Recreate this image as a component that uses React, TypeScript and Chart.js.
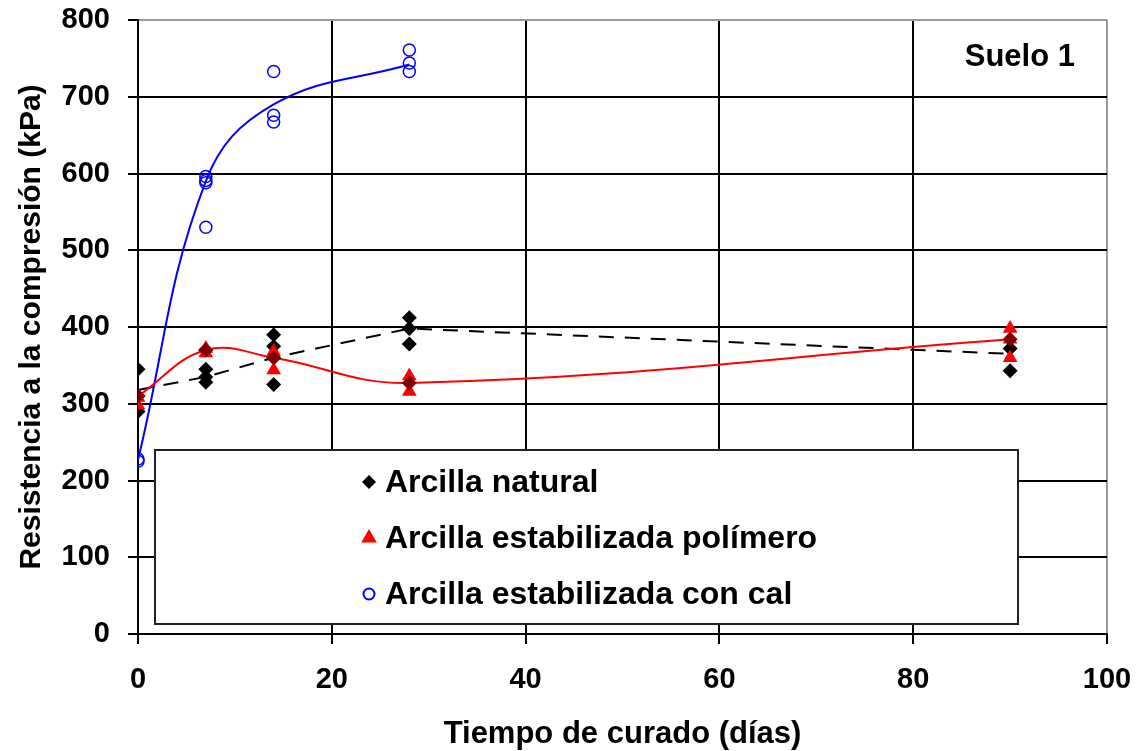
import React, { useEffect, useRef } from 'react';
import { Chart, registerables } from 'chart.js';

Chart.register(...registerables);

// ---- data ----
const naturalDays = [0, 0, 0, 7, 7, 7, 7, 14, 14, 14, 14, 28, 28, 28, 90, 90];
const naturalKPa = [345, 310, 290, 370, 345, 335, 328, 390, 375, 360, 325, 412, 398, 378, 372, 343];

const polymerDays = [0, 0, 7, 7, 14, 14, 28, 28, 90, 90, 90];
const polymerKPa = [308, 298, 372, 366, 368, 344, 336, 316, 398, 384, 360];

const limeDays = [0, 0, 7, 7, 7, 7, 14, 14, 14, 28, 28, 28];
const limeKPa = [228, 225, 596, 591, 588, 530, 733, 676, 667, 761, 744, 733];

const trendDays = [0, 7, 14, 28, 90];
const naturalTrend = [318, 335, 360, 398, 365];
const polymerTrend = [310, 370, 360, 327, 384];
const limeTrendDays = [0, 7, 14, 28];
const limeTrend = [227, 590, 690, 742];

const legendLabels = ['Arcilla natural', 'Arcilla estabilizada polímero', 'Arcilla estabilizada con cal'];
const panelLabel = 'Suelo 1';
const xTitle = 'Tiempo de curado (días)';
const yTitle = 'Resistencia a la compresión (kPa)';

const FONT = "'Liberation Sans', Arial, sans-serif";

const pts = (xs: number[], ys: number[]) => xs.map((x, i) => ({ x, y: ys[i] }));

function drawMarker(ctx: CanvasRenderingContext2D, kind: string, x: number, y: number, color: string) {
  ctx.save();
  if (kind === 'diamond') {
    const r = 7;
    ctx.fillStyle = color;
    ctx.beginPath();
    ctx.moveTo(x - r, y);
    ctx.lineTo(x, y - r);
    ctx.lineTo(x + r, y);
    ctx.lineTo(x, y + r);
    ctx.closePath();
    ctx.fill();
  } else if (kind === 'triangle') {
    const r = 9;
    ctx.fillStyle = color;
    ctx.beginPath();
    ctx.moveTo(x, y - r);
    ctx.lineTo(x + r * 0.866, y + r * 0.5);
    ctx.lineTo(x - r * 0.866, y + r * 0.5);
    ctx.closePath();
    ctx.fill();
  } else {
    ctx.strokeStyle = color;
    ctx.lineWidth = 2;
    ctx.beginPath();
    ctx.arc(x, y, 5.5, 0, Math.PI * 2);
    ctx.stroke();
  }
  ctx.restore();
}

const boxLegendPlugin = {
  id: 'boxLegend',
  beforeDatasetsDraw(chart: any) {
    const { ctx, chartArea } = chart;
    const left = chartArea.left + 17;
    const top = chartArea.top + 430;
    const w = 863;
    const h = 174;
    ctx.save();
    ctx.fillStyle = '#ffffff';
    ctx.fillRect(left, top, w, h);
    ctx.strokeStyle = '#222';
    ctx.lineWidth = 2;
    ctx.strokeRect(left, top, w, h);
    const kinds = ['diamond', 'triangle', 'circle'];
    const colors = ['#000000', '#ff0000', '#0000ff'];
    const rowY = [top + 32, top + 88, top + 144];
    ctx.font = `bold 32px ${FONT}`;
    ctx.textBaseline = 'middle';
    ctx.textAlign = 'left';
    ctx.fillStyle = '#000';
    legendLabels.forEach((lab, i) => {
      drawMarker(ctx, kinds[i], left + 214, rowY[i], colors[i]);
      ctx.fillStyle = '#000';
      ctx.fillText(lab, left + 230, rowY[i] + 1);
    });
    // panel label
    ctx.font = `bold 31px ${FONT}`;
    ctx.textAlign = 'right';
    ctx.fillText(panelLabel, chartArea.right - 32, chartArea.top + 37);
    ctx.restore();
  },
};

export default function App() {
  const canvasRef = useRef<HTMLCanvasElement | null>(null);

  useEffect(() => {
    if (!canvasRef.current) return;
    const chart = new Chart(canvasRef.current, {
      type: 'scatter',
      data: {
        datasets: [
          {
            label: 'trend natural',
            data: pts(trendDays, naturalTrend),
            showLine: true,
            borderColor: '#000',
            borderWidth: 2,
            borderDash: [15, 11],
            pointRadius: 0,
            tension: 0,
            order: 7,
          },
          {
            label: 'trend cal',
            data: pts(limeTrendDays, limeTrend),
            showLine: true,
            borderColor: '#0000ff',
            borderWidth: 2,
            pointRadius: 0,
            tension: 0.4,
            order: 6,
          },
          {
            label: legendLabels[0],
            data: pts(naturalDays, naturalKPa),
            pointStyle: 'rectRot',
            pointRadius: 7.5,
            backgroundColor: '#000',
            borderColor: '#000',
            borderWidth: 0,
            order: 5,
          },
          {
            label: legendLabels[1],
            data: pts(polymerDays, polymerKPa),
            pointStyle: 'triangle',
            pointRadius: 8.5,
            backgroundColor: '#ff0000',
            borderColor: '#ff0000',
            borderWidth: 0,
            order: 3,
          },
          {
            label: 'trend polímero',
            data: pts(trendDays, polymerTrend),
            showLine: true,
            borderColor: '#ff0000',
            borderWidth: 2,
            pointStyle: 'rectRot',
            pointRadius: 7.5,
            pointBackgroundColor: '#800000',
            pointBorderWidth: 0,
            tension: 0.4,
            order: 2,
          },
          {
            label: legendLabels[2],
            data: pts(limeDays, limeKPa),
            pointStyle: 'circle',
            pointRadius: 6,
            backgroundColor: 'rgba(255,255,255,0)',
            borderColor: '#0000ff',
            borderWidth: 1.5,
            order: 1,
          },
        ],
      },
      options: {
        responsive: false,
        animation: false,
        layout: { padding: { top: 20, right: 29, left: 0, bottom: 0 } },
        plugins: {
          legend: { display: false },
          tooltip: { enabled: false },
        },
        scales: {
          x: {
            type: 'linear',
            min: 0,
            max: 100,
            ticks: {
              stepSize: 20,
              color: '#000',
              padding: 19,
              font: { family: FONT, size: 29, weight: 'bold' },
            },
            grid: {
              color: (c: any) => (c.tick && c.tick.value === 100 ? '#9a9a9a' : '#000'),
              lineWidth: 2,
              tickLength: 10,
              tickColor: '#000',
            },
            border: { color: '#000', width: 2 },
            title: {
              display: true,
              text: xTitle,
              color: '#000',
              font: { family: FONT, size: 31, weight: 'bold', lineHeight: 1 },
              padding: { top: 0, bottom: 1 },
            },
            afterFit: (s: any) => {
              s.height = 117;
              s.paddingLeft = 0;
              s.paddingRight = 0;
            },
          },
          y: {
            type: 'linear',
            min: 0,
            max: 800,
            ticks: {
              stepSize: 100,
              color: '#000',
              padding: 18,
              font: { family: FONT, size: 29, weight: 'bold' },
            },
            grid: {
              color: (c: any) => (c.tick && c.tick.value === 800 ? '#9a9a9a' : '#000'),
              lineWidth: 2,
              tickLength: 10,
              tickColor: '#000',
            },
            border: { color: '#000', width: 2 },
            title: {
              display: true,
              text: yTitle,
              color: '#000',
              font: { family: FONT, size: 30, weight: 'bold', lineHeight: 1 },
              padding: { top: 17, bottom: 0 },
            },
            afterFit: (s: any) => {
              s.width = 138;
              s.paddingTop = 0;
              s.paddingBottom = 0;
            },
          },
        },
      },
      plugins: [boxLegendPlugin],
    } as any);
    return () => chart.destroy();
  }, []);

  return (
    <div style={{ position: 'absolute', left: 0, top: 0, width: 1136, height: 751, background: '#fff' }}>
      <canvas ref={canvasRef} width={1136} height={751} />
    </div>
  );
}
